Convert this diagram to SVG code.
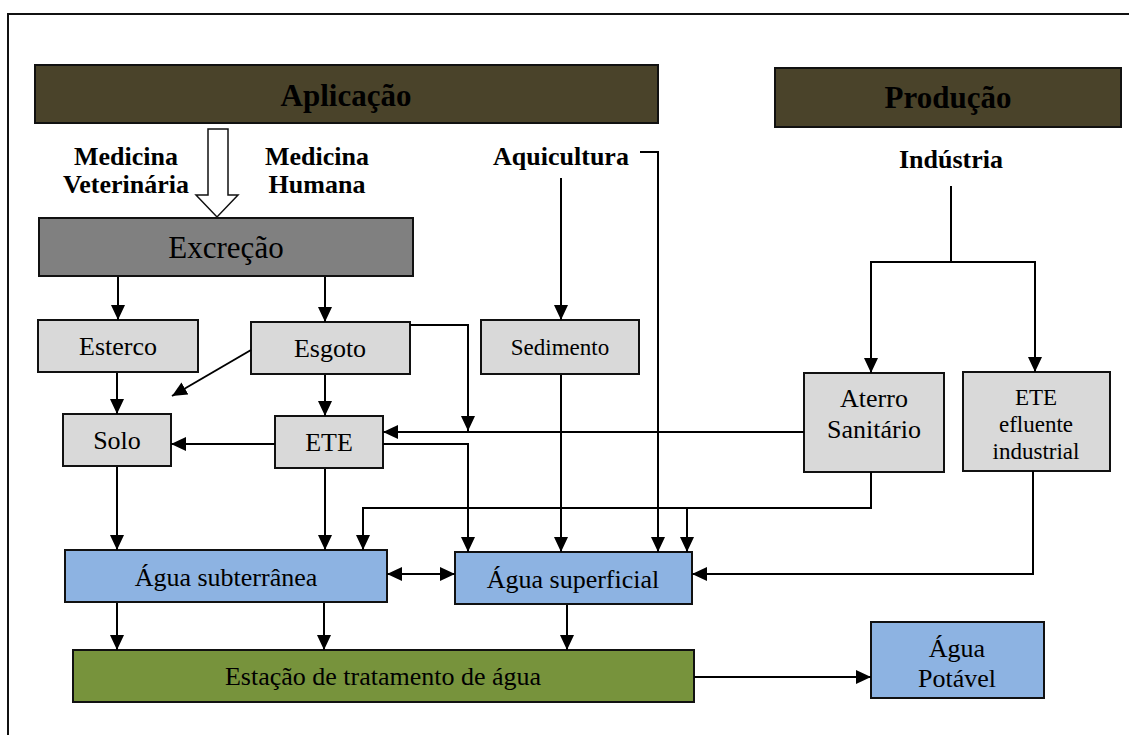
<svg xmlns="http://www.w3.org/2000/svg" width="1129" height="735" viewBox="0 0 1129 735">
  <style>
    .box { stroke: #111; stroke-width: 2; }
    .dark { fill: #4a432a; }
    .gray { fill: #d9d9d9; }
    .mid { fill: #808080; }
    .blue { fill: #8db3e2; }
    .green { fill: #77933c; }
    text { font-family: "Liberation Serif", "Times New Roman", serif; fill: #000; text-anchor: middle; }
    .b { font-weight: bold; font-size: 26px; }
    .t { font-size: 26px; }
    .s { font-size: 23px; }
    .big { font-size: 31px; }
    .bigb { font-size: 31px; font-weight: bold; }
    .conn path, .conn line { fill: none; stroke: #000; stroke-width: 2; }
    .arr { marker-end: url(#ah); }
  </style>
  <defs>
    <marker id="ah" markerUnits="userSpaceOnUse" markerWidth="15" markerHeight="14" refX="15" refY="7" orient="auto">
      <path d="M0,0 L15,7 L0,14 Z" fill="#000"/>
    </marker>
    <marker id="ahs" markerUnits="userSpaceOnUse" markerWidth="15" markerHeight="14" refX="15" refY="7" orient="auto-start-reverse">
      <path d="M0,0 L15,7 L0,14 Z" fill="#000"/>
    </marker>
  </defs>

  <rect width="1129" height="735" fill="#fff"/>
  <!-- outer frame -->
  <rect x="8" y="14" width="1140" height="740" fill="none" stroke="#111" stroke-width="2"/>

  <g id="aplicacao">
    <rect class="box dark" x="35" y="65" width="623" height="58"/>
    <text class="bigb" x="346" y="106">Aplicação</text>
  </g>
  <g id="producao">
    <rect class="box dark" x="775" y="68" width="346" height="59"/>
    <text class="bigb" x="948" y="108">Produção</text>
  </g>

  <g id="medicina-veterinaria">
    <text class="b" x="126" y="165">Medicina</text>
    <text class="b" x="126" y="193">Veterinária</text>
  </g>
  <g id="medicina-humana">
    <text class="b" x="317" y="165">Medicina</text>
    <text class="b" x="317" y="193">Humana</text>
  </g>
  <g id="aquicultura">
    <text class="b" x="561" y="165">Aquicultura</text>
  </g>
  <g id="industria">
    <text class="b" x="951" y="168">Indústria</text>
  </g>

  <!-- hollow block arrow into Excreção -->
  <g id="seta-excrecao">
    <polygon points="208,129 228,129 228,195 238,195 217,217 196,195 208,195" fill="#fff" stroke="#111" stroke-width="1.5"/>
  </g>

  <g id="excrecao">
    <rect class="box mid" x="39" y="218" width="374" height="58"/>
    <text class="big" x="226" y="258">Excreção</text>
  </g>
  <g id="esterco">
    <rect class="box gray" x="38" y="320" width="160" height="52"/>
    <text class="t" x="118" y="355">Esterco</text>
  </g>
  <g id="esgoto">
    <rect class="box gray" x="251" y="322" width="159" height="52"/>
    <text class="t" x="330" y="357">Esgoto</text>
  </g>
  <g id="sedimento">
    <rect class="box gray" x="481" y="320" width="158" height="54"/>
    <text class="s" x="560" y="355">Sedimento</text>
  </g>
  <g id="solo">
    <rect class="box gray" x="63" y="414" width="108" height="52"/>
    <text class="t" x="117" y="449">Solo</text>
  </g>
  <g id="ete">
    <rect class="box gray" x="275" y="416" width="108" height="52"/>
    <text class="t" x="329" y="451">ETE</text>
  </g>
  <g id="aterro">
    <rect class="box gray" x="804" y="373" width="140" height="99"/>
    <text class="t" x="874" y="407">Aterro</text>
    <text class="t" x="874" y="438">Sanitário</text>
  </g>
  <g id="ete-industrial">
    <rect class="box gray" x="963" y="372" width="147" height="99"/>
    <text class="s" x="1036" y="405">ETE</text>
    <text class="s" x="1036" y="432">efluente</text>
    <text class="s" x="1036" y="459">industrial</text>
  </g>
  <g id="agua-subterranea">
    <rect class="box blue" x="65" y="550" width="322" height="52"/>
    <text class="t" x="226" y="586">Água subterrânea</text>
  </g>
  <g id="agua-superficial">
    <rect class="box blue" x="455" y="552" width="237" height="52"/>
    <text class="t" x="573" y="588">Água superficial</text>
  </g>
  <g id="eta">
    <rect class="box green" x="73" y="650" width="621" height="52"/>
    <text class="t" x="383" y="685">Estação de tratamento de água</text>
  </g>
  <g id="agua-potavel">
    <rect class="box blue" x="871" y="622" width="173" height="76"/>
    <text class="t" x="957" y="657">Água</text>
    <text class="t" x="957" y="687">Potável</text>
  </g>

  <g id="conectores" class="conn">
    <line class="arr" x1="118" y1="277" x2="118" y2="320"/>
    <line class="arr" x1="325" y1="277" x2="325" y2="322"/>
    <line class="arr" x1="117" y1="373" x2="117" y2="414"/>
    <line class="arr" x1="251" y1="350" x2="172" y2="396"/>
    <line class="arr" x1="325" y1="375" x2="325" y2="416"/>
    <path class="arr" d="M410,325 H468 V431"/>
    <line class="arr" x1="275" y1="444" x2="171" y2="444"/>
    <path class="arr" d="M383,444 H468 V552"/>
    <line class="arr" x1="117" y1="467" x2="117" y2="550"/>
    <line class="arr" x1="325" y1="469" x2="325" y2="550"/>
    <line class="arr" x1="561" y1="178" x2="561" y2="320"/>
    <line class="arr" x1="561" y1="375" x2="561" y2="552"/>
    <path class="arr" d="M640,152 H658 V552"/>
    <path d="M951,186 V262"/>
    <path class="arr" d="M871,262 H1035 V372"/>
    <path class="arr" d="M951,262 H871 V373"/>
    <line class="arr" x1="804" y1="432" x2="383" y2="432"/>
    <path class="arr" d="M871,472 V508 H363 V550"/>
    <line class="arr" x1="687" y1="508" x2="687" y2="552"/>
    <path class="arr" d="M1033,471 V574 H692"/>
    <line marker-start="url(#ahs)" marker-end="url(#ahs)" x1="387" y1="574" x2="455" y2="574"/>
    <line class="arr" x1="117" y1="603" x2="117" y2="650"/>
    <line class="arr" x1="324" y1="603" x2="324" y2="650"/>
    <line class="arr" x1="567" y1="605" x2="567" y2="650"/>
    <line class="arr" x1="694" y1="677" x2="871" y2="677"/>
  </g>
</svg>
